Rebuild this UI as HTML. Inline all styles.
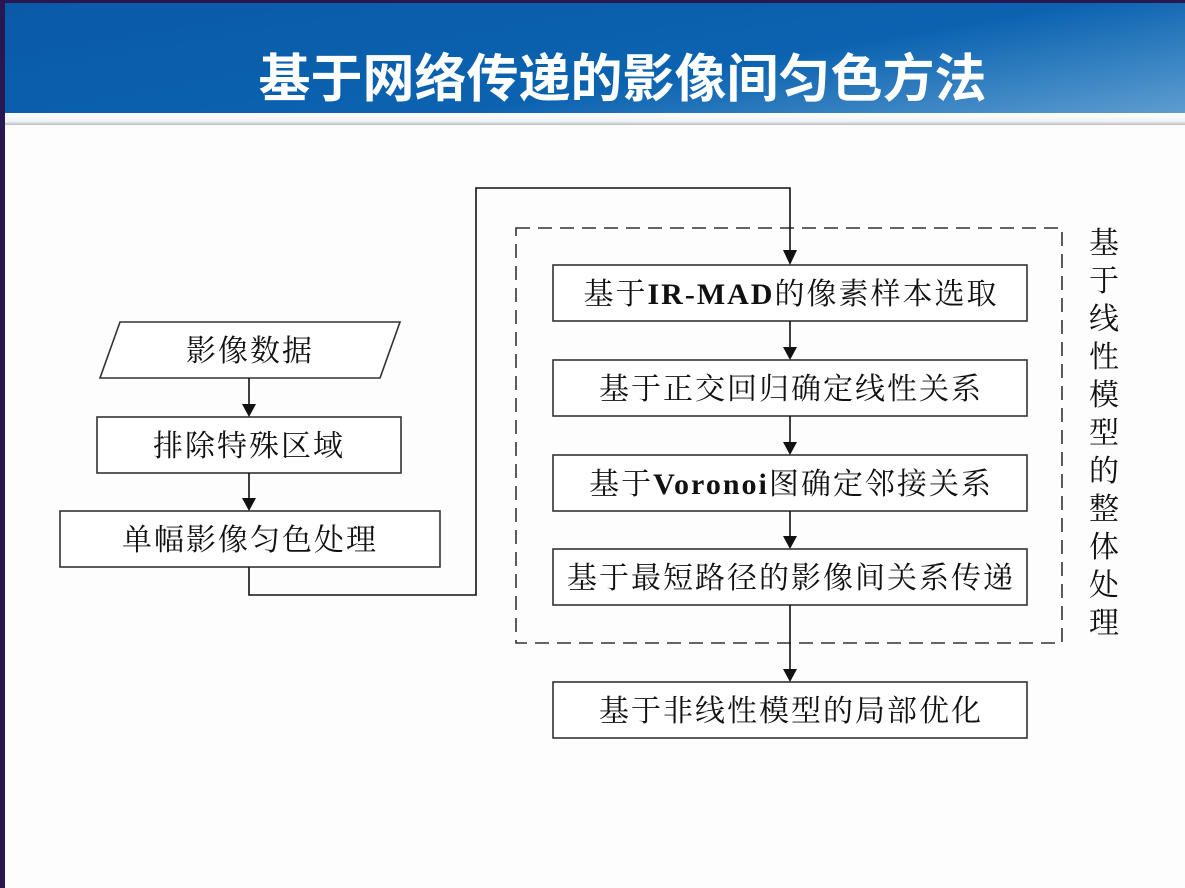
<!DOCTYPE html>
<html><head><meta charset="utf-8"><style>
body{margin:0;width:1185px;height:888px;overflow:hidden;background:#2a1650;position:relative}
#slide{position:absolute;left:5px;top:3px;width:1180px;height:885px;background:#fdfdfd}
#hdr{position:absolute;left:0;top:0;width:1180px;height:110px;background:linear-gradient(170deg,#0a5aa8 0%,#0b63b0 60%,#5d9dd0 100%)}
#bar{position:absolute;left:0;top:110px;width:1180px;height:12px;background:linear-gradient(180deg,#fff 0%,#eef2f6 70%,#bbb 100%)}
#title{position:absolute;left:0;top:42px;width:1245px;text-align:center;color:#fff;font:bold 52px "Noto Sans CJK SC",sans-serif;line-height:66px}
svg{position:absolute;left:0;top:0}
text{font-family:"Liberation Serif","Noto Serif CJK SC",serif;font-size:30px;letter-spacing:2px;fill:#111}
</style></head><body>
<div id="slide"><div id="hdr"></div><div id="bar"></div></div>
<div id="title">基于网络传递的影像间匀色方法</div>
<svg width="1185" height="888">
<g stroke="#333" stroke-width="1.6" fill="#fff">
<polygon points="120,322 400,322 380,378 100,378"/>
<rect x="97" y="417" width="304" height="56"/>
<rect x="60" y="511" width="380" height="56"/>
<rect x="553" y="265" width="474" height="56"/>
<rect x="553" y="360" width="474" height="56"/>
<rect x="553" y="455" width="474" height="56"/>
<rect x="553" y="549" width="474" height="56"/>
<rect x="553" y="682" width="474" height="56"/>
<rect x="516" y="228" width="546" height="415" fill="none" stroke-dasharray="14,8"/>
</g>
<g stroke="#111" stroke-width="1.6" fill="none">
<polyline points="249,567 249,595 476,595 476,188 790,188 790,252"/>
<line x1="249" y1="378" x2="249" y2="404"/>
<line x1="249" y1="473" x2="249" y2="498"/>
<line x1="790" y1="321" x2="790" y2="347"/>
<line x1="790" y1="416" x2="790" y2="442"/>
<line x1="790" y1="511" x2="790" y2="536"/>
<line x1="790" y1="605" x2="790" y2="669"/>
</g>
<g fill="#111">
<path d="M783,250 L797,250 L790,265z"/>
<path d="M242,404 L256,404 L249,417z"/>
<path d="M242,498 L256,498 L249,511z"/>
<path d="M783,347 L797,347 L790,360z"/>
<path d="M783,442 L797,442 L790,455z"/>
<path d="M783,536 L797,536 L790,549z"/>
<path d="M783,669 L797,669 L790,682z"/>
</g>
<g text-anchor="middle">
<text x="250" y="361">影像数据</text>
<text x="249" y="456">排除特殊区域</text>
<text x="250" y="550">单幅影像匀色处理</text>
<text x="791" y="304">基于<tspan font-weight="bold">IR-MAD</tspan>的像素样本选取</text>
<text x="791" y="399">基于正交回归确定线性关系</text>
<text x="791" y="494">基于<tspan font-weight="bold">Voronoi</tspan>图确定邻接关系</text>
<text x="791" y="588">基于最短路径的影像间关系传递</text>
<text x="791" y="721">基于非线性模型的局部优化</text>
</g>
<g text-anchor="middle">
<text x="1105" y="253">基</text><text x="1105" y="291">于</text><text x="1105" y="329">线</text><text x="1105" y="367">性</text><text x="1105" y="405">模</text><text x="1105" y="443">型</text><text x="1105" y="481">的</text><text x="1105" y="519">整</text><text x="1105" y="557">体</text><text x="1105" y="595">处</text><text x="1105" y="633">理</text>
</g>
</svg>
</body></html>
